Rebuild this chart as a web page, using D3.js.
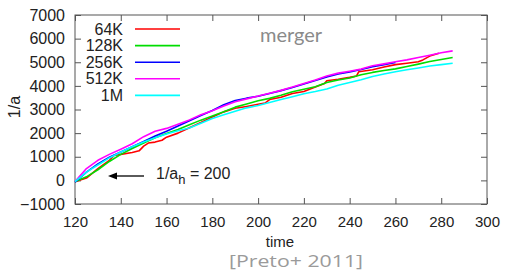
<!DOCTYPE html>
<html>
<head>
<meta charset="utf-8">
<script src="https://cdn.jsdelivr.net/npm/d3@7"></script>
<style>
  body { margin: 0; background: #fff; }
  svg { display: block; }
  .axis path { display: none; }
  .axis line { stroke: #555; }
  .axis text { font-family: "Liberation Sans", Arial, sans-serif; fill: #222; }
</style>
</head>
<body>
<div id="chart"></div>
<script>
const seriesNames = ["64K", "128K", "256K", "512K", "1M"];
const seriesColors = ["#ff0000", "#00dd00", "#0000ff", "#ff00ff", "#00ffff"];

const t64k = [120, 125, 130, 135, 137, 140, 145, 148, 150, 152, 155, 158, 160, 165, 170, 175, 180, 185, 190, 195, 200, 203, 205, 210, 215, 220, 225, 229, 230, 235, 240, 243, 244, 250, 255, 260, 265, 270, 272, 275, 279];
const v64k = [-60, 100, 500, 850, 1050, 1100, 1180, 1250, 1450, 1580, 1620, 1700, 1830, 2000, 2230, 2450, 2680, 2900, 3050, 3130, 3220, 3270, 3420, 3520, 3680, 3760, 3950, 4100, 4220, 4280, 4360, 4420, 4600, 4680, 4800, 4900, 4960, 5020, 5100, 5260, 5380];

const t128k = [120, 125, 130, 135, 140, 145, 150, 155, 160, 165, 170, 175, 180, 185, 190, 195, 200, 205, 210, 215, 220, 225, 230, 235, 240, 245, 250, 255, 260, 265, 270, 275, 280, 285];
const v128k = [-60, 150, 450, 800, 1100, 1350, 1580, 1800, 1980, 2150, 2350, 2550, 2720, 2900, 3100, 3230, 3370, 3470, 3600, 3750, 3860, 3960, 4140, 4250, 4330, 4470, 4570, 4650, 4720, 4820, 4920, 5030, 5120, 5200];

const t256k = [120, 125, 130, 135, 140, 145, 150, 155, 160, 165, 170, 175, 180, 185, 190, 195, 200, 205, 210, 215, 220, 225, 230, 235, 240, 245, 250, 255, 260];
const v256k = [-80, 350, 700, 980, 1200, 1420, 1650, 1880, 2080, 2300, 2520, 2750, 2960, 3200, 3380, 3480, 3560, 3680, 3800, 3930, 4080, 4230, 4380, 4500, 4590, 4690, 4810, 4900, 4990];

const t512k = [120, 125, 130, 135, 140, 145, 150, 155, 160, 165, 170, 175, 180, 185, 190, 195, 200, 205, 210, 215, 220, 225, 230, 235, 240, 245, 250, 255, 260, 265, 270, 275, 280, 285];
const v512k = [-50, 500, 850, 1100, 1320, 1550, 1850, 2080, 2200, 2380, 2560, 2780, 2950, 3150, 3330, 3450, 3570, 3690, 3810, 3950, 4100, 4250, 4420, 4540, 4620, 4710, 4850, 4930, 5020, 5100, 5200, 5300, 5400, 5480];

const t1m = [120, 125, 130, 135, 140, 145, 150, 155, 160, 165, 170, 175, 180, 185, 190, 195, 200, 205, 210, 215, 220, 225, 230, 235, 240, 245, 250, 255, 260, 265, 270, 275, 280, 285];
const v1m = [-50, 350, 650, 950, 1200, 1420, 1620, 1800, 1960, 2100, 2220, 2420, 2620, 2780, 2930, 3070, 3170, 3300, 3420, 3540, 3670, 3760, 3870, 4030, 4140, 4260, 4400, 4500, 4600, 4680, 4760, 4840, 4900, 4960];

const xTicks = [120, 140, 160, 180, 200, 220, 240, 260, 280, 300];
const yTicks = [-1000, 0, 1000, 2000, 3000, 4000, 5000, 6000, 7000];

const seriesTimes = [t64k, t128k, t256k, t512k, t1m];
const seriesValues = [v64k, v128k, v256k, v512k, v1m];

const width = 505, height = 274;
const margin = {top: 15, right: 18, bottom: 70, left: 75};
const innerW = width - margin.left - margin.right;
const innerH = height - margin.top - margin.bottom;

const svg = d3.select("#chart").append("svg")
    .attr("width", width)
    .attr("height", height);

const g = svg.append("g")
    .attr("transform", `translate(${margin.left},${margin.top})`);

const x = d3.scaleLinear().domain([120, 300]).range([0, innerW]);
const y = d3.scaleLinear().domain([-1000, 7000]).range([innerH, 0]);

// axes, gnuplot style: ticks point inward, mirrored on top and right
g.append("g").attr("class", "axis")
    .attr("transform", `translate(0,${innerH})`)
    .call(d3.axisBottom(x).tickValues(xTicks).tickFormat(d3.format("d"))
        .tickSizeInner(-6).tickSizeOuter(0).tickPadding(12))
    .selectAll("text").style("font-size", "15px");

g.append("g").attr("class", "axis")
    .call(d3.axisLeft(y).tickValues(yTicks).tickFormat(d3.format("d"))
        .tickSizeInner(-6).tickSizeOuter(0).tickPadding(10))
    .selectAll("text").style("font-size", "16px");

g.append("g").attr("class", "axis")
    .call(d3.axisTop(x).tickValues(xTicks).tickSizeInner(-6).tickSizeOuter(0).tickFormat(""));

g.append("g").attr("class", "axis")
    .attr("transform", `translate(${innerW},0)`)
    .call(d3.axisRight(y).tickValues(yTicks).tickSizeInner(-6).tickSizeOuter(0).tickFormat(""));

g.append("rect")
    .attr("width", innerW)
    .attr("height", innerH)
    .attr("fill", "none")
    .attr("stroke", "#555")
    .attr("stroke-width", 1);

const line = d3.line()
    .x(d => x(d[0]))
    .y(d => y(d[1]));

seriesNames.forEach((name, i) => {
    const pts = seriesTimes[i].map((t, j) => [t, seriesValues[i][j]]);
    g.append("path")
        .datum(pts)
        .attr("fill", "none")
        .attr("stroke", seriesColors[i])
        .attr("stroke-width", 1.6)
        .attr("stroke-linejoin", "round")
        .attr("d", line);
});

// legend
const legend = svg.append("g").attr("transform", "translate(0,29)");
seriesNames.forEach((name, i) => {
    const row = legend.append("g").attr("transform", `translate(0,${i * 16.6})`);
    row.append("text")
        .attr("x", 123)
        .attr("y", 5.5)
        .attr("text-anchor", "end")
        .style("font-family", "Liberation Sans, Arial, sans-serif")
        .style("font-size", "16px")
        .attr("fill", "#222")
        .text(name);
    row.append("line")
        .attr("x1", 135).attr("x2", 180)
        .attr("stroke", seriesColors[i])
        .attr("stroke-width", 1.6);
});

svg.append("text")
    .attr("x", 260)
    .attr("y", 42)
    .style("font-family", "Lato, 'Open Sans', sans-serif")
    .style("font-size", "20px")
    .attr("fill", "#8a8a8a")
    .text("merger");

// annotation arrow
const arrowY = 176;
svg.append("line")
    .attr("x1", 144).attr("x2", 114)
    .attr("y1", arrowY).attr("y2", arrowY)
    .attr("stroke", "#000").attr("stroke-width", 1.3);
svg.append("path")
    .attr("d", `M108,${arrowY} L117,${arrowY - 3.5} L117,${arrowY + 3.5} Z`)
    .attr("fill", "#000");

const ann = svg.append("text")
    .attr("x", 156)
    .attr("y", 178.5)
    .style("font-family", "Liberation Sans, Arial, sans-serif")
    .style("font-size", "16px")
    .attr("fill", "#222");
ann.append("tspan").text("1/a");
ann.append("tspan").attr("dy", 5).style("font-size", "13px").text("h");
ann.append("tspan").attr("dy", -5).text(" = 200");

svg.append("text")
    .attr("transform", "translate(20,107) rotate(-90)")
    .attr("text-anchor", "middle")
    .style("font-family", "Liberation Sans, Arial, sans-serif")
    .style("font-size", "16px")
    .attr("fill", "#222")
    .text("1/a");

svg.append("text")
    .attr("x", 280)
    .attr("y", 247)
    .attr("text-anchor", "middle")
    .style("font-family", "Liberation Sans, Arial, sans-serif")
    .style("font-size", "15px")
    .attr("fill", "#222")
    .text("time");

svg.append("text")
    .attr("x", 229)
    .attr("y", 267)
    .attr("textLength", 134)
    .attr("lengthAdjust", "spacingAndGlyphs")
    .style("font-family", "'Open Sans', sans-serif")
    .style("font-size", "15.5px")
    .attr("fill", "#9a9a9a")
    .text("[Preto+ 2011]");
</script>
</body>
</html>
